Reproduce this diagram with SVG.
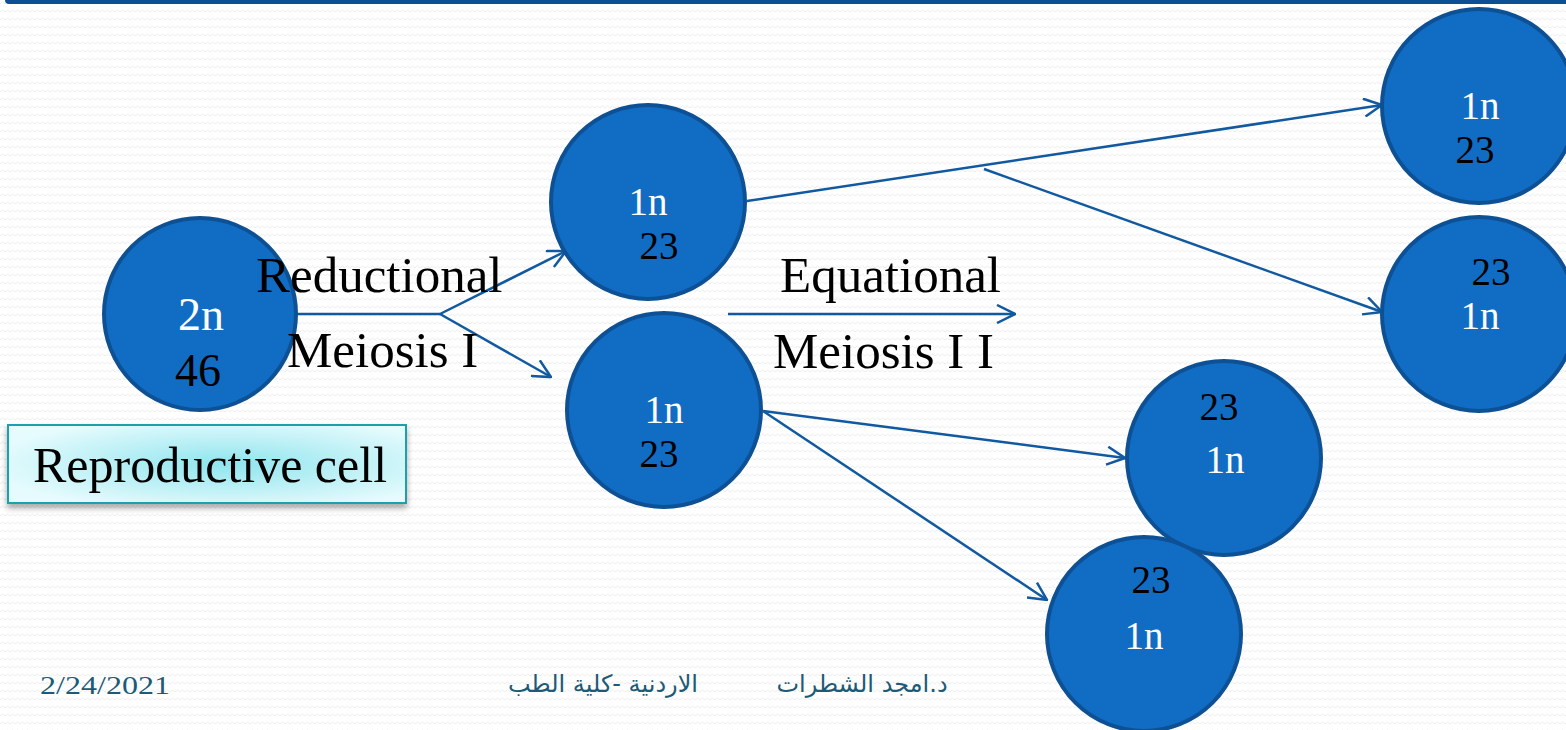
<svg xmlns="http://www.w3.org/2000/svg" width="1566" height="730" viewBox="0 0 1566 730">
  <defs>
    <style>
      .cell { fill: #116dc4; stroke: #0e5094; stroke-width: 4; }
      .w { font-family: "Liberation Serif", "DejaVu Serif", serif; font-size: 39px; fill: #ffffff; text-anchor: middle; }
      .k { font-family: "Liberation Serif", "DejaVu Serif", serif; font-size: 39px; fill: #000000; text-anchor: middle; }
      .big { font-size: 46px; }
      .lbl { font-family: "Liberation Serif", "DejaVu Serif", serif; font-size: 51px; fill: #000000; }
      .conn { stroke: #1159a0; stroke-width: 2.5; fill: none; }
      .foot { font-family: "DejaVu Sans", "Noto Sans", sans-serif; font-size: 24px; fill: #1b5b77; text-anchor: middle; }
      .date { font-family: "Liberation Serif", "DejaVu Serif", serif; font-size: 26px; fill: #1b5b77; }
    </style>
    <marker id="arr" viewBox="0 0 20 20" refX="19" refY="10" markerWidth="20" markerHeight="20" markerUnits="userSpaceOnUse" orient="auto">
      <path d="M1,1 L19,10 L1,19" fill="none" stroke="#1159a0" stroke-width="2.5"/>
    </marker>
    <pattern id="zz" width="10" height="8" patternUnits="userSpaceOnUse">
      <polyline points="0,4 2.5,2 5,4 7.5,2 10,4" fill="none" stroke="#ececec" stroke-width="1"/>
    </pattern>
    <radialGradient id="boxg" cx="0.55" cy="0.5" r="0.6">
      <stop offset="0" stop-color="#8fe5ee"/>
      <stop offset="1" stop-color="#e6fbfd"/>
    </radialGradient>
    <filter id="sh" x="-10%" y="-20%" width="120%" height="160%">
      <feDropShadow dx="0" dy="4" stdDeviation="3" flood-color="#000000" flood-opacity="0.35"/>
    </filter>
  </defs>

  <rect width="1566" height="730" fill="#ffffff"/>
  <rect width="1566" height="730" fill="url(#zz)"/>
  <rect x="5" y="-6" width="1570" height="10" rx="4" fill="#0c4f94"/>

  <g id="connectors">
    <polyline class="conn" points="297,314 440,314"/>
    <line class="conn" x1="440" y1="314" x2="566" y2="251" marker-end="url(#arr)"/>
    <line class="conn" x1="440" y1="314" x2="551" y2="377" marker-end="url(#arr)"/>
    <line class="conn" x1="747" y1="201" x2="1382" y2="105" marker-end="url(#arr)"/>
    <line class="conn" x1="984" y1="169" x2="1382" y2="312" marker-end="url(#arr)"/>
    <line class="conn" x1="728" y1="314" x2="1015" y2="314" marker-end="url(#arr)"/>
    <line class="conn" x1="763" y1="411" x2="1125" y2="458" marker-end="url(#arr)"/>
    <line class="conn" x1="763" y1="411" x2="1047" y2="600" marker-end="url(#arr)"/>
  </g>

  <g id="node-2n">
    <circle class="cell" cx="200" cy="314" r="96"/>
    <text class="w big" x="201" y="330">2n</text>
    <text class="k big" x="198" y="386">46</text>
  </g>

  <g id="node-1n-a">
    <circle class="cell" cx="648" cy="202" r="97"/>
    <text class="w" x="648" y="215">1n</text>
    <text class="k" x="659" y="259">23</text>
  </g>

  <g id="node-1n-b">
    <circle class="cell" cx="664" cy="410" r="97"/>
    <text class="w" x="664" y="423">1n</text>
    <text class="k" x="659" y="467">23</text>
  </g>

  <g id="node-1n-c">
    <circle class="cell" cx="1479" cy="106" r="97"/>
    <text class="w" x="1480" y="119">1n</text>
    <text class="k" x="1475" y="163">23</text>
  </g>

  <g id="node-1n-d">
    <circle class="cell" cx="1479" cy="314" r="97"/>
    <text class="k" x="1491" y="285">23</text>
    <text class="w" x="1480" y="329">1n</text>
  </g>

  <g id="node-1n-e">
    <circle class="cell" cx="1224" cy="458" r="97"/>
    <text class="k" x="1219" y="420">23</text>
    <text class="w" x="1225" y="473">1n</text>
  </g>

  <g id="node-1n-f">
    <circle class="cell" cx="1144" cy="634" r="97"/>
    <text class="k" x="1151" y="593">23</text>
    <text class="w" x="1144" y="649">1n</text>
  </g>

  <g id="labels">
    <text class="lbl" x="256" y="292">Reductional</text>
    <text class="lbl" x="287" y="367">Meiosis I</text>
    <text class="lbl" x="780" y="292">Equational</text>
    <text class="lbl" x="773" y="368">Meiosis I I</text>
  </g>

  <g id="node-reproductive-cell">
    <rect x="8" y="425" width="398" height="78" fill="url(#boxg)" stroke="#1aa0a9" stroke-width="2" filter="url(#sh)"/>
    <text class="lbl" x="33" y="482" style="font-size:50px">Reproductive cell</text>
  </g>

  <g id="footer">
    <text class="date" x="40" y="694" textLength="130" lengthAdjust="spacingAndGlyphs">2/24/2021</text>
    <text class="foot" x="603" y="692">الاردنية -كلية الطب</text>
    <text class="foot" x="862" y="692">د.امجد الشطرات</text>
  </g>
</svg>
